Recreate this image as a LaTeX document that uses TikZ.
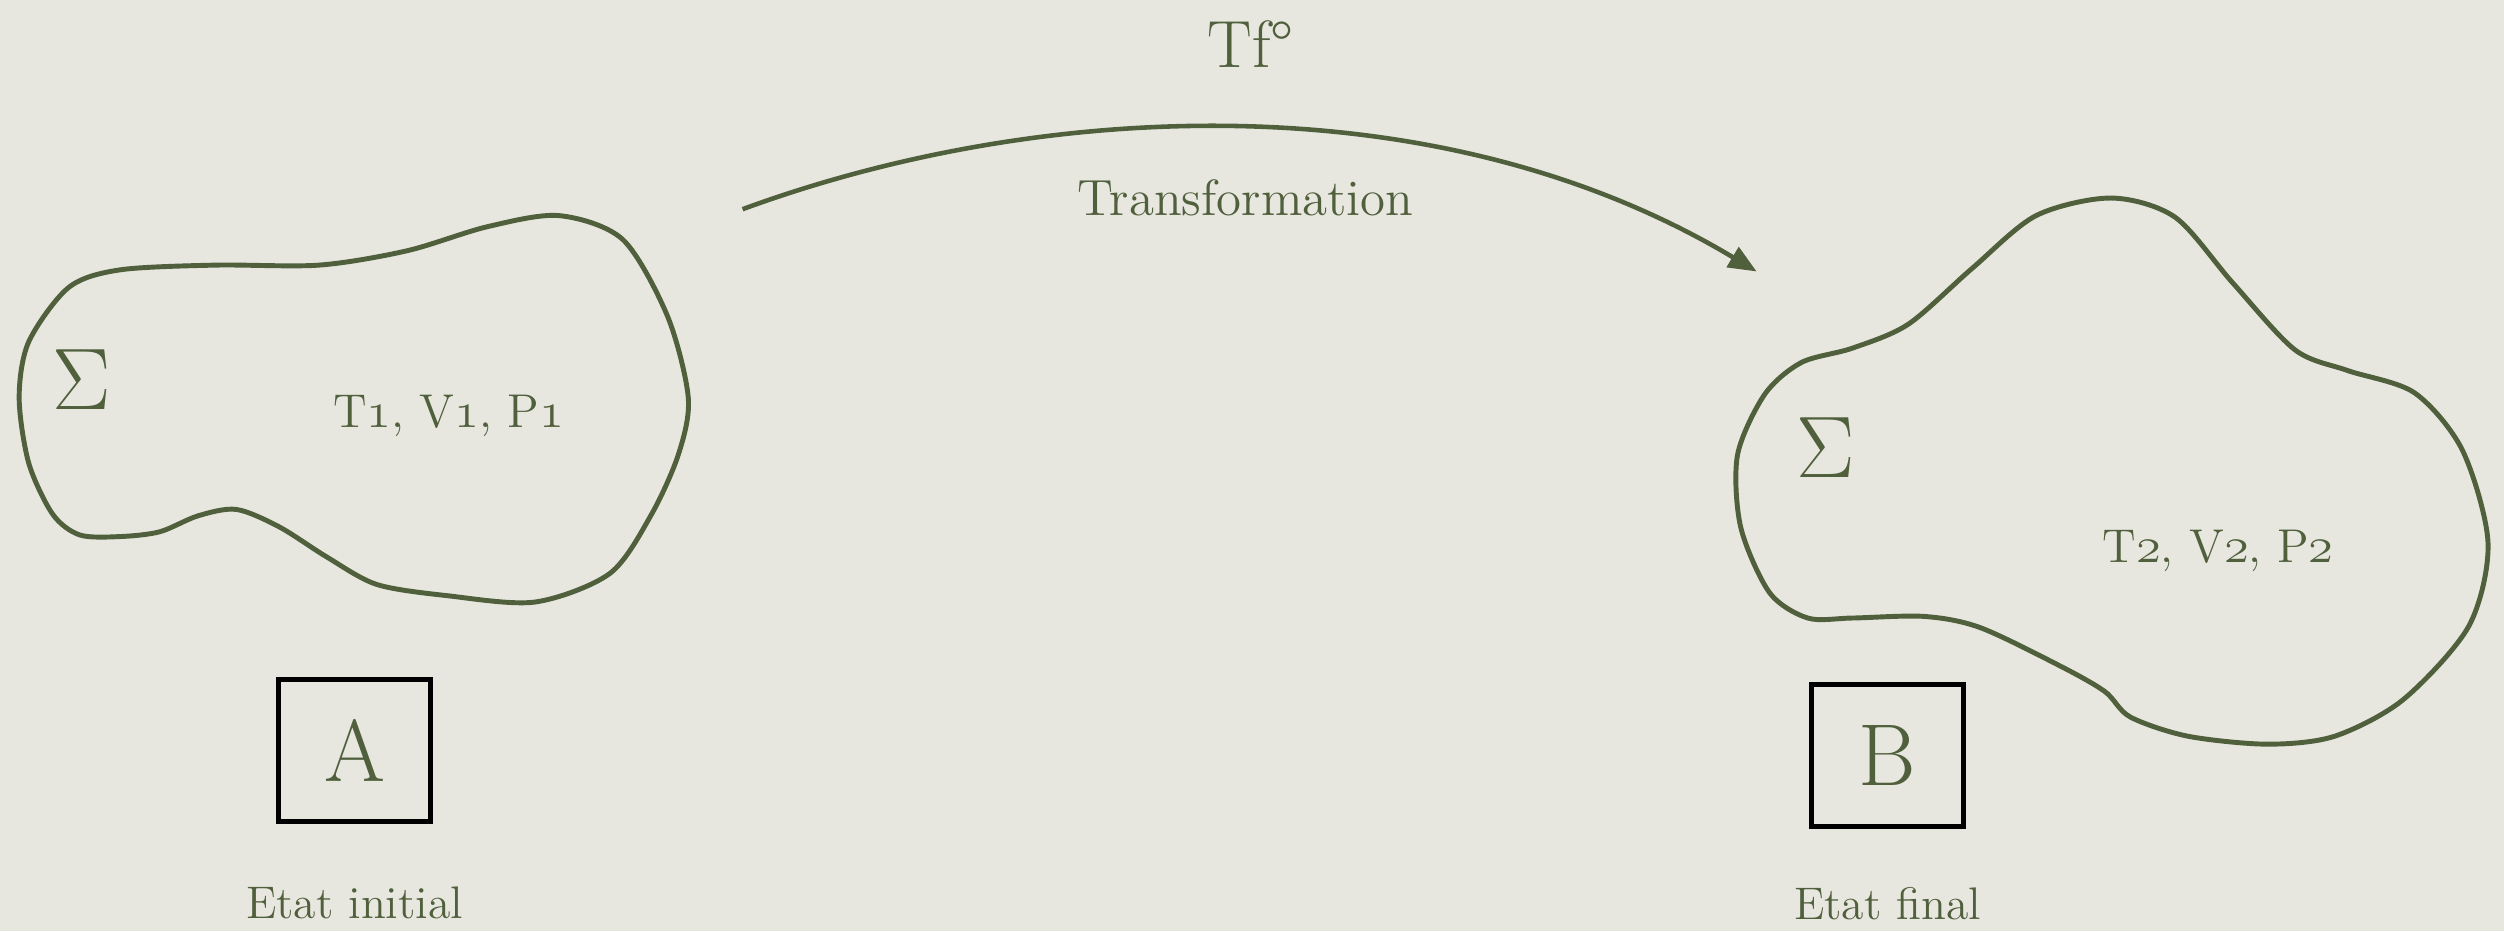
\documentclass[tikz,border=0pt]{standalone}
\usepackage{fontspec}
\usepackage{tikz}
\usetikzlibrary{arrows.meta, positioning}
\definecolor{sysgreen}{RGB}{80, 95, 60}
\definecolor{paper}{RGB}{231, 231, 223}
\newcommand{\osnum}[1]{$\mathnormal{#1}$}

\begin{document}
\begin{tikzpicture}[
  x=0.01597cm, y=-0.01597cm,
  blob/.style={draw=sysgreen, line width=1.4pt},
  statebox/.style={rectangle, draw=black, line width=1.3pt, minimum width=1.52cm,
              minimum height=1.42cm, inner sep=0pt, text=sysgreen,
              font=\fontsize{25}{30}\selectfont},
  caption/.style={text=sysgreen, inner sep=0pt, font=\fontsize{13}{16}\selectfont},
  sigma/.style={text=sysgreen, inner sep=0pt, font=\fontsize{23}{28}\selectfont},
  arrow/.style={-{Triangle[length=8pt, width=6.5pt]}, line width=1.3pt, color=sysgreen},
]
  \fill[paper] (0,0) rectangle (1568,583);
  \useasboundingbox (0,0) rectangle (1568,583);

  % system A
  \draw[blob] plot[smooth cycle, tension=0.5] coordinates {
    (12,249) (18,214) (43,180) (75,169) (135,166) (200,166) (255,157) (305,142)
    (350,135) (390,150) (418,198) (431,249) (425,284) (408,322)
    (382,359) (335,377) (280,373) (236,366) (205,349) (175,330) (148,319)
    (124,323) (100,333) (75,336) (50,335) (33,322) (18,290)};
  \node[sigma] (sigA) at (51,238) {$\Sigma$};
  \node[caption, anchor=base, font=\fontsize{13.5}{16}\selectfont] (varA) at (281,268)
    {T\osnum{1}, V\osnum{1}, P\osnum{1}};

  % system B
  \draw[blob] plot[smooth cycle, tension=0.5] coordinates {
    (1160,218) (1195,203) (1235,168) (1275,135) (1322,124) (1362,136) (1398,177)
    (1437,219) (1470,232) (1512,246) (1542,282) (1558,340) (1546,392) (1505,438)
    (1462,461) (1420,466) (1370,461) (1334,449) (1318,433) (1290,417) (1240,393)
    (1205,386) (1160,387) (1132,387) (1108,371) (1090,330) (1088,285) (1105,247)
    (1128,227)};
  \node[sigma] (sigB) at (1143,280) {$\Sigma$};
  \node[caption, anchor=base, font=\fontsize{13.5}{16}\selectfont] (varB) at (1389,352)
    {T\osnum{2}, V\osnum{2}, P\osnum{2}};

  % states
  \node[statebox] (boxA) at (222,470) {A};
  \node[statebox] (boxB) at (1182,473) {B};
  \node[caption, below=0.62cm of boxA] (initA) {Etat initial};
  \node[caption, below=0.58cm of boxB] (finB) {Etat final};

  % transformation
  \coordinate (tfstart) at (465,131);
  \coordinate (tfend) at (1100,170);
  \draw[arrow] (tfstart) .. controls (650,63) and (900,50) .. (tfend);
  \node[caption, anchor=base, font=\fontsize{19}{23}\selectfont] (tf) at (783,42) {Tf°};
  \node[caption, anchor=base, font=\fontsize{14.5}{17}\selectfont] (tfname) at (780,135) {Transformation};
\end{tikzpicture}
\end{document}
